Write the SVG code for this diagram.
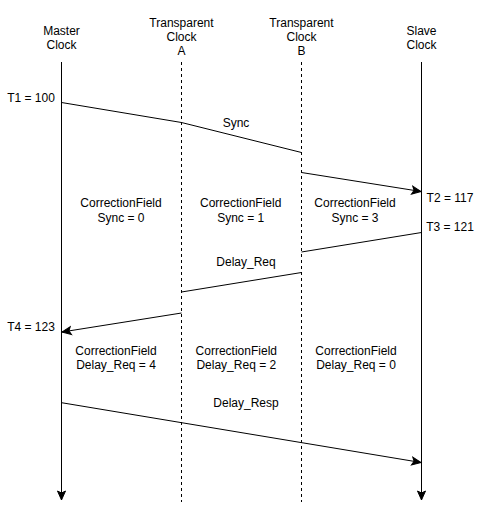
<svg xmlns="http://www.w3.org/2000/svg" width="488" height="515" viewBox="0 0 488 515">
<style>
text{font-family:"Liberation Sans",Arial,sans-serif;font-size:12px;fill:#000;text-anchor:middle}
.l{stroke:#000;stroke-width:1;fill:none}
.d{stroke:#000;stroke-width:1;fill:none;stroke-dasharray:3 3}
.end{text-anchor:end}
.st{text-anchor:start}
</style>
<defs>
<marker id="a" markerUnits="userSpaceOnUse" markerWidth="12" markerHeight="12" viewBox="-10 -5 12 10" refX="0" refY="0" orient="auto">
<path d="M-9,-4 L0,0 L-9,4 L-7,0 Z" fill="#000" stroke="#000" stroke-width="1"/>
</marker>
</defs>
<rect width="488" height="515" fill="#fff"/>
<g id="master">
<text x="61.5" y="35">Master</text><text x="61.5" y="49">Clock</text>
</g>
<g id="tcA">
<text x="181.5" y="27">Transparent</text><text x="181.5" y="41">Clock</text><text x="181.5" y="55">A</text>
</g>
<g id="tcB">
<text x="301.5" y="27">Transparent</text><text x="301.5" y="41">Clock</text><text x="301.5" y="55">B</text>
</g>
<g id="slave">
<text x="421.5" y="35">Slave</text><text x="421.5" y="49">Clock</text>
</g>
<g id="connectors">
<line class="l" x1="61.5" y1="62" x2="61.5" y2="500" marker-end="url(#a)"/>
<line class="l" x1="421.5" y1="62" x2="421.5" y2="500" marker-end="url(#a)"/>
<line class="d" x1="181.5" y1="62" x2="181.5" y2="502"/>
<line class="d" x1="301.5" y1="62" x2="301.5" y2="502"/>
<line class="l" x1="61.5" y1="102.5" x2="181.5" y2="122.5"/>
<line class="l" x1="181.5" y1="122.5" x2="301.5" y2="152.5"/>
<line class="l" x1="301.5" y1="172.5" x2="421" y2="191.5" marker-end="url(#a)"/>
<line class="l" x1="421.5" y1="232.5" x2="301.5" y2="252"/>
<line class="l" x1="301.5" y1="272.5" x2="181.5" y2="292"/>
<line class="l" x1="181.5" y1="313" x2="62" y2="332" marker-end="url(#a)"/>
<line class="l" x1="61.5" y1="402.7" x2="421" y2="462.5" marker-end="url(#a)"/>
</g>
<g id="labels">
<text x="31" y="101.5">T1 = 100</text>
<text x="236" y="127">Sync</text>
<text x="450" y="201.5">T2 = 117</text>
<text x="450" y="231">T3 = 121</text>
<text x="121" y="207">CorrectionField</text><text x="121" y="221.5">Sync = 0</text>
<text x="240.7" y="207">CorrectionField</text><text x="240.7" y="221.5">Sync = 1</text>
<text x="355" y="207">CorrectionField</text><text x="355" y="221.5">Sync = 3</text>
<text x="246" y="266">Delay_Req</text>
<text x="31" y="330.5">T4 = 123</text>
<text x="116" y="355">CorrectionField</text><text x="116" y="369">Delay_Req = 4</text>
<text x="236.3" y="355">CorrectionField</text><text x="236.3" y="369">Delay_Req = 2</text>
<text x="356" y="355">CorrectionField</text><text x="356" y="369">Delay_Req = 0</text>
<text x="246" y="406.5">Delay_Resp</text>
</g>
</svg>
